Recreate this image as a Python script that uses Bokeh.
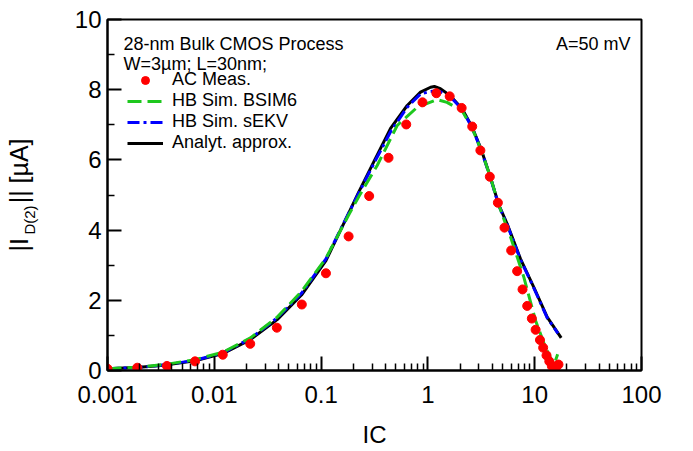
from bokeh.plotting import figure
from bokeh.models import FixedTicker, CustomJSTickFormatter, Label, Legend, LegendItem, LinearAxis
from bokeh.embed import file_html
from bokeh.resources import INLINE

# ---- data ----
ic_meas = [0.001, 0.0019, 0.0036, 0.0066, 0.012, 0.0217, 0.0385, 0.066, 0.111, 0.181,
           0.282, 0.428, 0.627, 0.89, 1.20, 1.60, 2.07, 2.60, 3.10, 3.80, 4.52, 5.21,
           6.02, 6.85, 7.69, 8.51, 9.4, 10.2, 11.2, 12.0, 12.9, 13.7, 14.5, 15.3, 16.0, 16.7]
id2_meas = [0.05, 0.08, 0.13, 0.26, 0.45, 0.76, 1.22, 1.88, 2.77, 3.82,
            4.97, 6.06, 7.01, 7.64, 7.90, 7.81, 7.48, 6.95, 6.27, 5.52, 4.78, 4.07,
            3.42, 2.83, 2.31, 1.84, 1.48, 1.16, 0.87, 0.65, 0.43, 0.26, 0.12, 0.05, 0.12, 0.17]

ic_analyt = [0.001, 0.002, 0.0036, 0.0066, 0.012, 0.0218, 0.0388, 0.0655, 0.111, 0.179,
             0.225, 0.312, 0.447, 0.64, 0.853, 1.06, 1.15, 1.31, 1.62, 2.09, 2.60, 3.18,
             3.85, 4.61, 5.52, 7.36, 9.82, 13.1, 17.7]
id2_analyt = [0.05, 0.09, 0.16, 0.28, 0.48, 0.88, 1.45, 2.15, 3.13, 4.45,
              5.08, 5.95, 6.90, 7.55, 7.93, 8.07, 8.09, 8.03, 7.83, 7.46, 6.93, 6.27,
              5.51, 4.72, 4.18, 3.18, 2.37, 1.52, 0.93]

ic_sekv = [0.001, 0.002, 0.0036, 0.0066, 0.012, 0.0218, 0.0388, 0.0655, 0.111, 0.179,
           0.225, 0.312, 0.447, 0.64, 0.853, 1.06, 1.15, 1.31, 1.62, 2.09, 2.60, 3.18,
           3.85, 4.61, 5.52, 7.36, 9.82, 13.1, 16.5]
id2_sekv = [0.05, 0.09, 0.17, 0.29, 0.50, 0.91, 1.50, 2.20, 3.18, 4.45,
            5.05, 5.90, 6.80, 7.50, 7.88, 7.95, 7.96, 7.94, 7.80, 7.44, 6.91, 6.25,
            5.49, 4.70, 4.16, 3.16, 2.35, 1.50, 1.06]

ic_bsim6 = [0.001, 0.002, 0.0036, 0.0066, 0.012, 0.0218, 0.0388, 0.0655, 0.111, 0.179,
            0.225, 0.335, 0.516, 0.794, 1.22, 1.51, 2.09, 2.60, 3.18, 3.85, 4.61, 5.3,
            5.81, 7.91, 10.2, 12.6, 14.6, 15.2, 16.4]
id2_bsim6 = [0.05, 0.10, 0.18, 0.31, 0.52, 0.93, 1.52, 2.25, 3.20, 4.40,
             4.95, 5.84, 6.98, 7.50, 7.72, 7.64, 7.40, 6.90, 6.25, 5.50, 4.72, 4.20,
             3.89, 2.66, 1.42, 0.66, 0.26, 0.17, 0.46]

x_major = [0.001, 0.01, 0.1, 1, 10, 100]
x_labels = ["0.001", "0.01", "0.1", "1", "10", "100"]
y_major = [0, 2, 4, 6, 8, 10]
y_minor = [1, 3, 5, 7, 9]

FONT = "Liberation Sans"
NBSP = "\u00a0"

p = figure(width=693, height=451, x_axis_type="log", x_range=(0.001, 100), y_range=(0, 10),
           output_backend="svg", toolbar_location=None,
           min_border_left=107, min_border_right=52, min_border_top=19, min_border_bottom=81)
p.xgrid.visible = False
p.ygrid.visible = False
p.outline_line_color = "black"
p.outline_line_width = 2
p.outline_line_alpha = 1

x_minor = [m * d for d in x_major[:-1] for m in range(2, 10)]
p.xaxis.ticker = FixedTicker(ticks=x_major, minor_ticks=x_minor)
p.yaxis.ticker = FixedTicker(ticks=y_major, minor_ticks=y_minor)
p.xaxis.formatter = CustomJSTickFormatter(
    args=dict(xt=x_major, xl=x_labels),
    code="const i = xt.findIndex(t => Math.abs(Math.log10(t) - Math.log10(tick)) < 1e-6); return i >= 0 ? xl[i] : '';")

for ax in (p.xaxis[0], p.yaxis[0]):
    ax.major_tick_in = 14
    ax.major_tick_out = 0
    ax.minor_tick_in = 7
    ax.minor_tick_out = 0
    ax.axis_line_width = 2
    ax.axis_line_color = "black"
    ax.major_tick_line_width = 2
    ax.major_tick_line_color = "black"
    ax.minor_tick_line_width = 1.5
    ax.minor_tick_line_color = "black"
    ax.major_label_text_font = FONT
    ax.major_label_text_font_size = "24px"
    ax.major_label_text_color = "black"
p.xaxis.major_label_standoff = 15
p.yaxis.major_label_standoff = 6
p.xaxis.axis_label = "IC"
p.xaxis.axis_label_text_font = FONT
p.xaxis.axis_label_text_font_size = "24px"
p.xaxis.axis_label_text_font_style = "normal"
p.xaxis.axis_label_text_color = "black"
p.xaxis.axis_label_standoff = 15

# y title: subscript part on the tick axis (nearer the frame, i.e. lowered),
# main part on an outer, tick-less axis
p.yaxis.axis_label = "D(2)" + NBSP * 12
p.yaxis.axis_label_text_font = FONT
p.yaxis.axis_label_text_font_size = "15px"
p.yaxis.axis_label_text_font_style = "normal"
p.yaxis.axis_label_text_color = "black"
p.yaxis.axis_label_standoff = 34

ytitle = LinearAxis(ticker=FixedTicker(ticks=[]), axis_line_color=None,
                    major_tick_line_color=None, minor_tick_line_color=None,
                    major_tick_out=0, minor_tick_out=0, major_label_standoff=0,
                    axis_label="|I" + NBSP * 5 + "||" + NBSP + "[µA]",
                    axis_label_text_font=FONT, axis_label_text_font_size="25px",
                    axis_label_text_font_style="normal", axis_label_text_color="black",
                    axis_label_standoff=-15)
p.add_layout(ytitle, "left")

black = p.line(ic_analyt, id2_analyt, line_color="black", line_width=3)
blue = p.line(ic_sekv, id2_sekv, line_color="#0000ff", line_width=3, line_dash="12 4 3 4")
green = p.line(ic_bsim6, id2_bsim6, line_color="#1ec81e", line_width=3, line_dash="14 6")
dots = p.scatter(ic_meas, id2_meas, marker="circle", size=9, fill_color="#ff0000", line_color="#ff0000")

legend = Legend(items=[LegendItem(label="AC Meas.", renderers=[dots]),
                       LegendItem(label="HB Sim. BSIM6", renderers=[green]),
                       LegendItem(label="HB Sim. sEKV", renderers=[blue]),
                       LegendItem(label="Analyt. approx.", renderers=[black])],
                location=(20, 217), padding=0, margin=0, spacing=0,
                glyph_width=36, glyph_height=20, label_height=20, label_standoff=9,
                label_text_font=FONT, label_text_font_size="18px", label_text_color="black",
                border_line_alpha=0, background_fill_alpha=0)
p.add_layout(legend)

def lab(x, y, text, align="left"):
    p.add_layout(Label(x=x, y=y, x_units="screen", y_units="screen", text=text,
                       text_font=FONT, text_font_size="18px", text_color="black",
                       text_align=align, text_baseline="alphabetic"))

lab(16, 327, "28-nm Bulk CMOS Process")
lab(16, 307, "W=3µm; L=30nm;")
lab(523, 327, "A=50 mV", align="right")

open("out.html", "w").write(file_html(p, INLINE))
